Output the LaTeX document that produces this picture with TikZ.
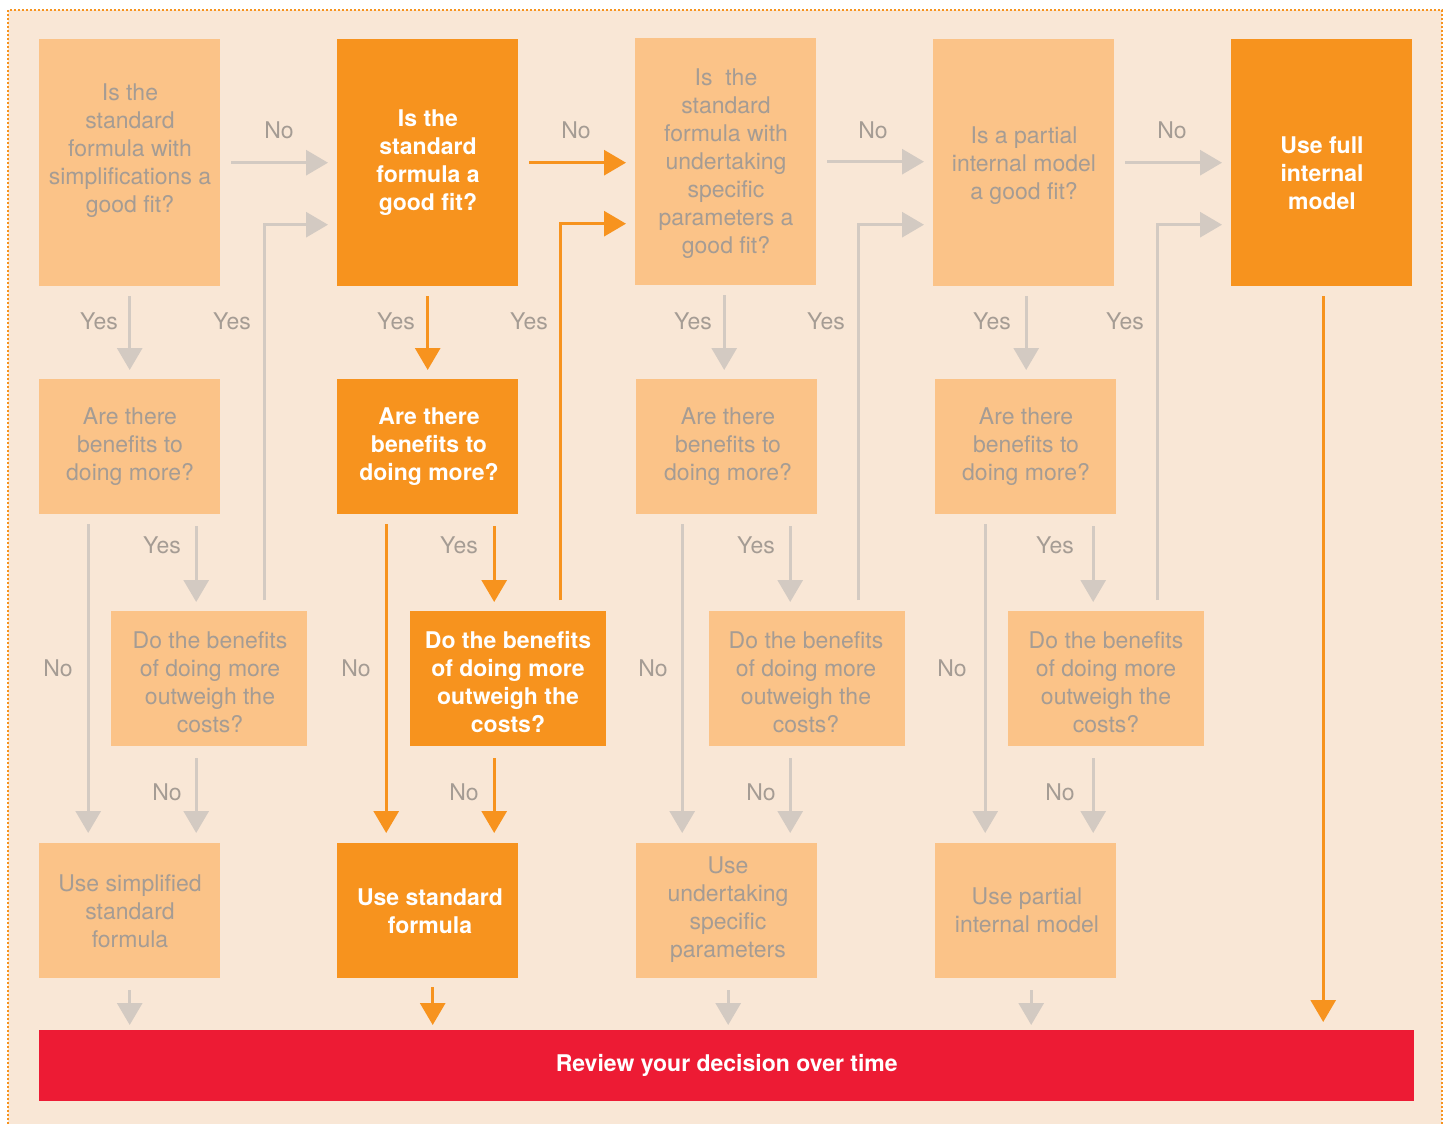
\documentclass[tikz,border=0pt]{standalone}
\usepackage{fontspec}
\setmainfont{TeX Gyre Heros}
\usetikzlibrary{arrows.meta}
\definecolor{bgc}{HTML}{F9E7D6}
\definecolor{lboxc}{HTML}{FBC388}
\definecolor{dboxc}{HTML}{F7931E}
\definecolor{redc}{HTML}{ED1B34}
\definecolor{agray}{HTML}{D3CAC2}
\definecolor{tgray}{HTML}{A59C94}
\begin{document}
\begin{tikzpicture}[x=1pt,y=-1pt,
  box/.style={rectangle,inner sep=0pt,anchor=north west},
  lbox/.style={box,fill=lboxc},
  dbox/.style={box,fill=dboxc},
  tall/.style={minimum width=181pt,minimum height=247pt},
  short/.style={minimum width=181pt,minimum height=135pt},
  wide/.style={minimum width=196pt,minimum height=135pt},
  ltext/.style={align=center,text=tgray,font=\fontsize{23}{28}\selectfont,inner sep=0pt,yshift=-3pt},
  dtext/.style={align=center,text=white,font=\fontsize{23}{28}\selectfont\bfseries,inner sep=0pt,yshift=-3pt},
  lab/.style={text=tgray,font=\fontsize{23}{28}\selectfont,inner sep=0pt},
  ga/.style={draw=agray,line width=3pt,-{Triangle[width=25pt,length=22pt]}},
  oa/.style={draw=dboxc,line width=3pt,-{Triangle[width=25pt,length=22pt]}},
  frame/.style={draw=dboxc,line width=2.5pt,dash pattern=on 2pt off 2pt}
]
\useasboundingbox (0,0) rectangle (1449,1124);
\fill[bgc] (8,10) rectangle (1442,1124);
\draw[frame] (8,1124) -- (8,10) -- (1442,10) -- (1442,1124);

% row 1
\node[lbox,tall] (b1) at (39,39) {};
\node[dbox,tall] (b2) at (337,39) {};
\node[lbox,tall] (b3) at (635,38) {};
\node[lbox,tall] (b4) at (933,39) {};
\node[dbox,tall] (b5) at (1231,39) {};
% row 2
\node[lbox,short] (c1) at (39,379) {};
\node[dbox,short] (c2) at (337,379) {};
\node[lbox,short] (c3) at (636,379) {};
\node[lbox,short] (c4) at (935,379) {};
% row 3
\node[lbox,wide] (d1) at (111,611) {};
\node[dbox,wide] (d2) at (410,611) {};
\node[lbox,wide] (d3) at (709,611) {};
\node[lbox,wide] (d4) at (1008,611) {};
% row 4
\node[lbox,short] (e1) at (39,843) {};
\node[dbox,short] (e2) at (337,843) {};
\node[lbox,short] (e3) at (636,843) {};
\node[lbox,short] (e4) at (935,843) {};
% review
\node[box,fill=redc,minimum width=1375pt,minimum height=71pt,text=white,font=\fontsize{23}{28}\selectfont\bfseries] (rev) at (39,1030) {Review your decision over time};

% texts
\node[ltext] (tb1) at (130,148) {Is the\\standard\\formula with\\simplifications a\\good fit?};
\node[dtext] (tb2) at (428,160) {Is the\\standard\\formula a\\good fit?};
\node[ltext] (tb3) at (726,161) {Is~ the\\standard\\formula with\\undertaking\\specific\\parameters a\\good fit?};
\node[ltext] (tb4) at (1024,163) {Is a partial\\internal model\\a good fit?};
\node[dtext] (tb5) at (1322,170) {Use full\\internal\\model};

\node[ltext] (tc1) at (130,444) {Are there\\benefits to\\doing more?};
\node[dtext] (tc2) at (429,444) {Are there\\benefits to\\doing more?};
\node[ltext] (tc3) at (728,444) {Are there\\benefits to\\doing more?};
\node[ltext] (tc4) at (1026,444) {Are there\\benefits to\\doing more?};

\node[ltext] (td1) at (210,679) {Do the benefits\\of doing more\\outweigh the\\costs?};
\node[dtext] (td2) at (508,679) {Do the benefits\\of doing more\\outweigh the\\costs?};
\node[ltext] (td3) at (806,679) {Do the benefits\\of doing more\\outweigh the\\costs?};
\node[ltext] (td4) at (1106,679) {Do the benefits\\of doing more\\outweigh the\\costs?};

\node[ltext] (te1) at (130,908) {Use simplified\\standard\\formula};
\node[dtext] (te2) at (430,908) {Use standard\\formula};
\node[ltext] (te3) at (728,907) {Use\\undertaking\\specific\\parameters};
\node[ltext] (te4) at (1027,907) {Use partial\\internal model};

% labels
\node[lab] (n1) at (279,130) {No};
\node[lab] (n2) at (576,130) {No};
\node[lab] (n3) at (873,130) {No};
\node[lab] (n4) at (1172,130) {No};
\node[lab] (y1) at (99,321) {Yes};
\node[lab] (y2) at (232,321) {Yes};
\node[lab] (y3) at (396,321) {Yes};
\node[lab] (y4) at (529,321) {Yes};
\node[lab] (y5) at (693,321) {Yes};
\node[lab] (y6) at (826,321) {Yes};
\node[lab] (y7) at (992,321) {Yes};
\node[lab] (y8) at (1125,321) {Yes};
\node[lab] (y9) at (162,545) {Yes};
\node[lab] (y10) at (459,545) {Yes};
\node[lab] (y11) at (756,545) {Yes};
\node[lab] (y12) at (1055,545) {Yes};
\node[lab] (n5) at (58,668) {No};
\node[lab] (n6) at (356,668) {No};
\node[lab] (n7) at (653,668) {No};
\node[lab] (n8) at (952,668) {No};
\node[lab] (n9) at (167,792) {No};
\node[lab] (n10) at (464,792) {No};
\node[lab] (n11) at (761,792) {No};
\node[lab] (n12) at (1060,792) {No};

% column 1 (grey)
\draw[ga,shorten <=11pt,shorten >=9pt] (b1.east) -- (b1.east -| b2.west);
\draw[ga,shorten >=9pt] ([xshift=55pt,yshift=11pt]d1.north) |- ([yshift=-62pt]b2.west);
\draw[ga,shorten <=10pt,shorten >=9pt] (b1.south) -- (b1.south |- c1.north);
\draw[ga,shorten <=10pt,shorten >=10pt] ([xshift=-41.5pt]c1.south) -- ([xshift=-41.5pt]c1.south |- e1.north);
\draw[ga,shorten <=12pt,shorten >=9pt] ([xshift=66.5pt]c1.south) -- ([xshift=66.5pt]c1.south |- d1.north);
\draw[ga,shorten <=12pt,shorten >=10pt] ([xshift=-13pt]d1.south) -- ([xshift=-13pt]d1.south |- e1.north);
\draw[ga,shorten <=12pt,shorten >=5pt] (e1.south) -- (e1.south |- rev.north);

% column 2 (orange)
\draw[oa,shorten <=11pt,shorten >=9pt] (b2.east) -- (b2.east -| b3.west);
\draw[oa,shorten >=9pt] ([xshift=52pt,yshift=11pt]d2.north) |- ([yshift=-62pt]b3.west);
\draw[oa,shorten <=10pt,shorten >=9pt] (b2.south) -- (b2.south |- c2.north);
\draw[oa,shorten <=10pt,shorten >=10pt] ([xshift=-41.5pt]c2.south) -- ([xshift=-41.5pt]c2.south |- e2.north);
\draw[oa,shorten <=12pt,shorten >=9pt] ([xshift=66.5pt]c2.south) -- ([xshift=66.5pt]c2.south |- d2.north);
\draw[oa,shorten <=12pt,shorten >=10pt] ([xshift=-14pt]d2.south) -- ([xshift=-14pt]d2.south |- e2.north);
\draw[oa,shorten <=9pt,shorten >=5pt] ([xshift=5pt]e2.south) -- ([xshift=5pt]e2.south |- rev.north);

% column 3 (grey)
\draw[ga,shorten <=11pt,shorten >=9pt] (b3.east) -- (b3.east -| b4.west);
\draw[ga,shorten >=9pt] ([xshift=51pt,yshift=11pt]d3.north) |- ([yshift=-62pt]b4.west);
\draw[ga,shorten <=10pt,shorten >=9pt] ([xshift=-1.5pt]b3.south) -- ([xshift=-1.5pt]b3.south |- c3.north);
\draw[ga,shorten <=10pt,shorten >=10pt] ([xshift=-44.5pt]c3.south) -- ([xshift=-44.5pt]c3.south |- e3.north);
\draw[ga,shorten <=12pt,shorten >=9pt] ([xshift=63.5pt]c3.south) -- ([xshift=63.5pt]c3.south |- d3.north);
\draw[ga,shorten <=12pt,shorten >=10pt] ([xshift=-17pt]d3.south) -- ([xshift=-17pt]d3.south |- e3.north);
\draw[ga,shorten <=12pt,shorten >=5pt] ([xshift=1.5pt]e3.south) -- ([xshift=1.5pt]e3.south |- rev.north);

% column 4 (grey)
\draw[ga,shorten <=11pt,shorten >=9pt] (b4.east) -- (b4.east -| b5.west);
\draw[ga,shorten >=9pt] ([xshift=51pt,yshift=11pt]d4.north) |- ([yshift=-62pt]b5.west);
\draw[ga,shorten <=10pt,shorten >=9pt] ([xshift=2.5pt]b4.south) -- ([xshift=2.5pt]b4.south |- c4.north);
\draw[ga,shorten <=10pt,shorten >=10pt] ([xshift=-40.5pt]c4.south) -- ([xshift=-40.5pt]c4.south |- e4.north);
\draw[ga,shorten <=12pt,shorten >=9pt] ([xshift=67.5pt]c4.south) -- ([xshift=67.5pt]c4.south |- d4.north);
\draw[ga,shorten <=12pt,shorten >=10pt] ([xshift=-13pt]d4.south) -- ([xshift=-13pt]d4.south |- e4.north);
\draw[ga,shorten <=12pt,shorten >=5pt] ([xshift=5.5pt]e4.south) -- ([xshift=5.5pt]e4.south |- rev.north);

% column 5 (orange)
\draw[oa,shorten <=10pt,shorten >=8pt] ([xshift=1.5pt]b5.south) -- ([xshift=1.5pt]b5.south |- rev.north);
\end{tikzpicture}
\end{document}
